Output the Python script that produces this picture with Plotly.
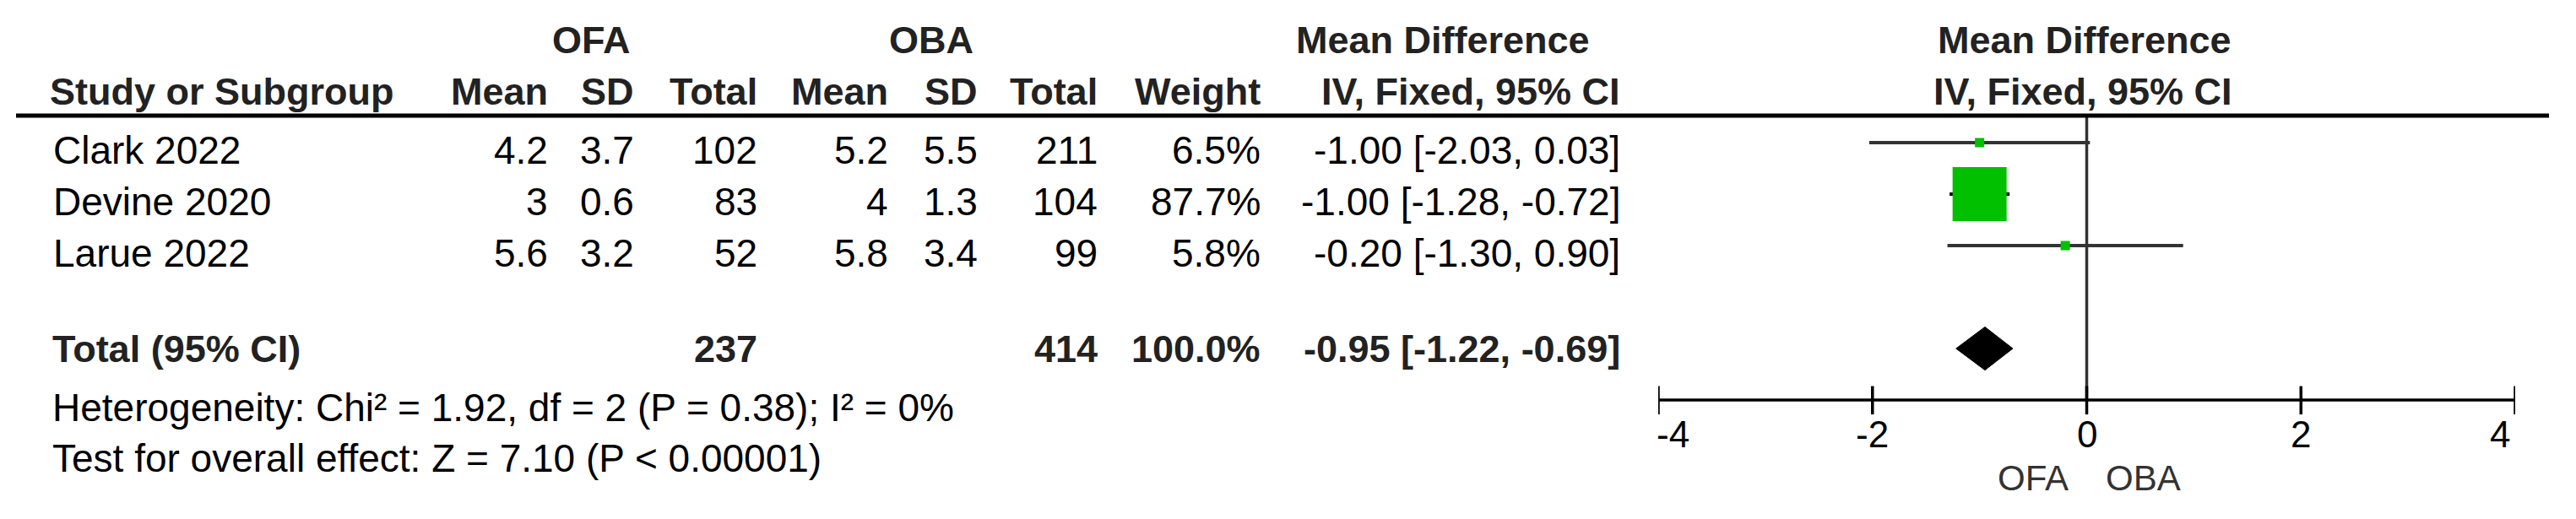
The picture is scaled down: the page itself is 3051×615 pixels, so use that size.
import plotly.graph_objects as go

# study level data (mean difference, OFA vs OBA)
studies = ["Clark 2022", "Devine 2020", "Larue 2022"]
ofa_mean = [4.2, 3, 5.6]
ofa_sd = [3.7, 0.6, 3.2]
ofa_n = [102, 83, 52]
oba_mean = [5.2, 4, 5.8]
oba_sd = [5.5, 1.3, 3.4]
oba_n = [211, 104, 99]
weights = [6.5, 87.7, 5.8]
md = [-1.00, -1.00, -0.20]
ci_lo = [-2.03, -1.28, -1.30]
ci_hi = [0.03, -0.72, 0.90]

# pooled estimate
total_md = -0.95
total_lo = -1.22
total_hi = -0.69
heterogeneity = "Heterogeneity: Chi\u00b2 = 1.92, df = 2 (P = 0.38); I\u00b2 = 0%"
overall = "Test for overall effect: Z = 7.10 (P < 0.00001)"

ticks = [-4, -2, 0, 2, 4]
favours = ["OFA", "OBA"]

W, H = 3051, 615
OFF = 8                     # page body margin, figure is drawn shifted by this
FW, FH = W - OFF, H - OFF
FONT = "Liberation Sans, Arial, sans-serif"
ROW0, ROWH = 108, 61        # page pixel of row 0 and pixel height of a row
study_rows = [1, 2, 3]
total_row = 5
axis_row = 6


def px(x):
    # page pixel -> paper fraction
    return (x - OFF) / FW


def ci_text(m, lo, hi):
    return f"{m:.2f} [{lo:.2f}, {hi:.2f}]"


annotations = []


def label(text, x, y, anchor, bold=False, size=46, xref="paper", yshift=0, xshift=0,
          color="#000"):
    annotations.append(dict(
        text=f"<b>{text}</b>" if bold else text, x=x, y=y, xref=xref, yref="y",
        xanchor=anchor, yanchor="middle", showarrow=False, yshift=yshift, xshift=xshift,
        font=dict(family=FONT, size=size, color=color)))


# header rows
HB = "#222"
label("OFA", px(700), -1, "center", True, 45, color=HB)
label("OBA", px(1103), -1, "center", True, 45, color=HB)
label("Mean Difference", px(1709), -1, "center", True, 45, color=HB)
label("Mean Difference", px(2469), -1, "center", True, 45, color=HB)
label("Study or Subgroup", px(57), 0, "left", True, 45, color=HB)
head_cols = [("Mean", 651), ("SD", 753), ("Total", 899), ("Mean", 1054), ("SD", 1160),
             ("Total", 1302), ("Weight", 1495), ("IV, Fixed, 95% CI", 1921)]
for t, xr in head_cols:
    label(t, px(xr), 0, "right", True, 45, color=HB)
label("IV, Fixed, 95% CI", px(2467), 0, "center", True, 45, color=HB)

# study rows
for i, r in enumerate(study_rows):
    cells = [f"{ofa_mean[i]:g}", f"{ofa_sd[i]:g}", str(ofa_n[i]),
             f"{oba_mean[i]:g}", f"{oba_sd[i]:g}", str(oba_n[i]),
             f"{weights[i]:.1f}%", ci_text(md[i], ci_lo[i], ci_hi[i])]
    label(studies[i], px(61), r, "left", yshift=-9)
    for t, (_, xr) in zip(cells, head_cols):
        label(t, px(xr), r, "right", yshift=-9)

# total row
label("Total (95% CI)", px(60), total_row, "left", True, 45, color=HB)
label(str(sum(ofa_n)), px(899), total_row, "right", True, 45, color=HB)
label(str(sum(oba_n)), px(1302), total_row, "right", True, 45, color=HB)
label(f"{sum(weights):.1f}%", px(1495), total_row, "right", True, 45, color=HB)
label(ci_text(total_md, total_lo, total_hi), px(1921), total_row, "right", True, 45, color=HB)

label(heterogeneity, px(60), 6.15, "left")
label(overall, px(60), 7.13, "left")

# axis tick labels (end labels kept inside the axis) and favours labels
for j, t in enumerate(ticks):
    if j == 0:
        label(str(t), t, 6.66, "left", size=44, xref="x", xshift=-4)
    elif j == len(ticks) - 1:
        label(str(t), t, 6.66, "right", size=44, xref="x", xshift=-4)
    else:
        label(str(t), t, 6.66, "center", size=44, xref="x")
annotations.append(dict(text=favours[0], x=0, y=7.52, xref="x", yref="y", xanchor="right",
                        xshift=-20, showarrow=False, font=dict(family=FONT, size=42, color="#333")))
annotations.append(dict(text=favours[1], x=0, y=7.52, xref="x", yref="y", xanchor="left",
                        xshift=20, showarrow=False, font=dict(family=FONT, size=42, color="#333")))

fig = go.Figure()

# confidence interval lines
for i, r in enumerate(study_rows):
    fig.add_trace(go.Scatter(x=[ci_lo[i], ci_hi[i]], y=[r, r], mode="lines",
                             line=dict(color="#333" if weights[i] < 50 else "#000", width=4),
                             hoverinfo="skip"))

# weighted squares
fig.add_trace(go.Scatter(
    x=md, y=study_rows, mode="markers",
    marker=dict(symbol="square", color="#00C000", opacity=1, line=dict(width=0),
                size=[max(11, 64 * w / max(weights)) for w in weights]),
    hovertext=studies, hoverinfo="text+x"))

# pooled diamond
h = 0.42
fig.add_trace(go.Scatter(
    x=[total_lo, total_md, total_hi, total_md, total_lo],
    y=[total_row, total_row - h, total_row, total_row + h, total_row],
    mode="lines", fill="toself", fillcolor="#000", line=dict(color="#000", width=1),
    hoverinfo="skip"))

# bottom axis line and ticks
fig.add_trace(go.Scatter(x=[ticks[0], ticks[-1]], y=[axis_row, axis_row], mode="lines",
                         line=dict(color="#000", width=3.5), hoverinfo="skip"))
tx, ty = [], []
for t in ticks:
    tx += [t, t, None]
    ty += [axis_row - 0.27, axis_row + 0.28, None]
fig.add_trace(go.Scatter(x=tx, y=ty, mode="lines", line=dict(color="#000", width=3.5),
                         hoverinfo="skip"))

shapes = [
    dict(type="line", xref="paper", yref="y", x0=px(19), x1=px(3019), y0=0.475, y1=0.475,
         line=dict(color="#000", width=5)),
    dict(type="line", xref="x", yref="y", x0=0, x1=0, y0=0.475, y1=axis_row,
         line=dict(color="#333", width=3.5), layer="below"),
]

fig.update_layout(
    width=FW, height=FH, margin=dict(l=0, r=0, t=0, b=0),
    paper_bgcolor="white", plot_bgcolor="white", showlegend=False,
    xaxis=dict(domain=[px(1964), px(2979)], range=[ticks[0], ticks[-1]], visible=False,
               fixedrange=True),
    yaxis=dict(domain=[0, 1], range=[(H - ROW0) / ROWH, -(ROW0 - OFF) / ROWH], visible=False,
               fixedrange=True),
    annotations=annotations, shapes=shapes,
)

fig.write_html("out.html")
